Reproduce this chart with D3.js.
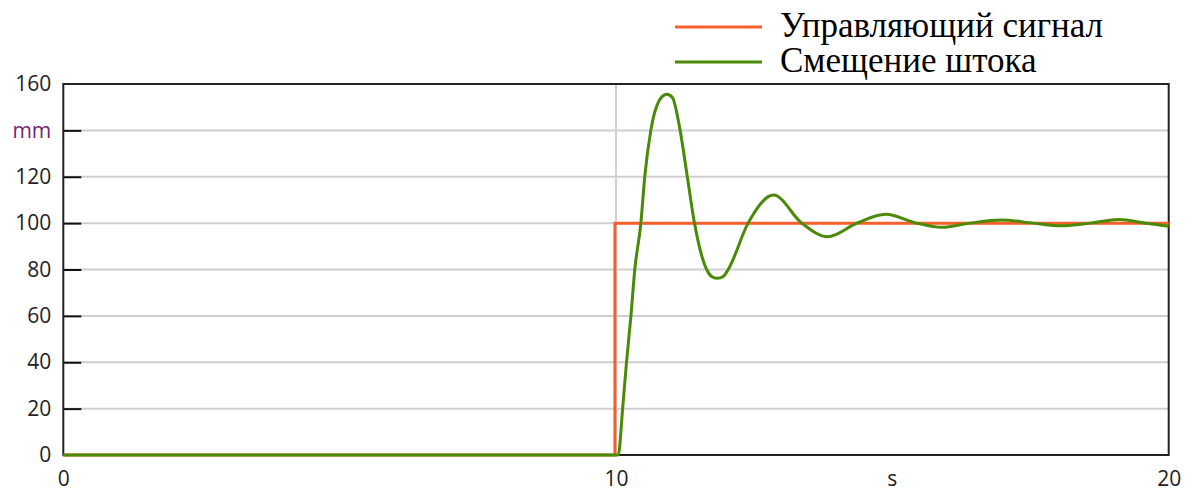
<!DOCTYPE html>
<html>
<head>
<meta charset="utf-8">
<script src="https://cdn.jsdelivr.net/npm/d3@7"></script>
<style>
  body { margin: 0; background: #fff; }
  svg { display: block; }
  .tick text { font-family: "Open Sans", sans-serif; font-size: 21px; fill: #222; }
  .legend text { font-family: "Liberation Serif", "Times New Roman", serif; font-size: 35px; fill: #000; }
</style>
</head>
<body>
<svg id="chart" width="1194" height="491"></svg>
<script>
// control signal (step)
var stepTimes  = [0, 9.98, 9.98, 20];
var stepValues = [0, 0, 100, 100];

// rod displacement
var rodTimes  = [0, 10.04, 10.12, 10.19, 10.27, 10.34, 10.45, 10.52, 10.63, 10.82, 10.92, 11.02, 11.16, 11.29, 11.42,
                 11.64, 11.73, 11.83, 11.94, 12.03, 12.39, 12.85, 13.36, 13.83, 14.36,
                 14.88, 15.44, 15.89, 16.40, 16.98, 17.55, 18.06, 18.58, 19.10, 19.60, 20];
var rodValues = [0, 0, 20, 40, 60, 80, 100, 120, 140, 154.2, 155.6, 154.2, 140, 120, 100,
                 80, 77.0, 76.2, 77.0, 80, 100, 112.1, 100, 94.1, 100,
                 103.8, 100, 98.2, 100, 101.3, 100, 98.9, 100, 101.6, 99.9, 98.7];

var seriesNames  = ["Управляющий сигнал", "Смещение штока"];
var seriesColors = ["#f7602a", "#4a8a08"];

var xTicks = [0, 10, 20],
    xGrid  = [10],
    xUnit  = "s",
    xUnitAt = 15;
var yTicks = [0, 20, 40, 60, 80, 100, 120, 140, 160],
    yUnit  = "mm",
    yUnitAt = 140;

var svg = d3.select("#chart"),
    x0 = 63.3, x1 = 1168.7, y0 = 455, y1 = 84;

var x = d3.scaleLinear().domain([0, 20]).range([x0, x1]),
    y = d3.scaleLinear().domain([0, 160]).range([y0, y1]);

// horizontal grid
svg.append("g").selectAll("line")
    .data(yTicks.filter(d => d > 0 && d < 160))
  .enter().append("line")
    .attr("x1", x0).attr("x2", x1)
    .attr("y1", y).attr("y2", y)
    .attr("stroke", "#cfcfcf")
    .attr("stroke-width", 2);

// vertical grid
svg.append("g").selectAll("line")
    .data(xGrid)
  .enter().append("line")
    .attr("x1", x).attr("x2", x)
    .attr("y1", y0).attr("y2", y1)
    .attr("stroke", "#cfcfcf")
    .attr("stroke-width", 2);

// y axis: short inner ticks, labels on the left
var yAxis = svg.append("g")
    .attr("transform", "translate(" + x0 + ",0)")
    .call(d3.axisLeft(y).tickValues(yTicks).tickSize(-18).tickPadding(12)
        .tickFormat(d => d === yUnitAt ? yUnit : d));
yAxis.select(".domain").remove();
yAxis.selectAll(".tick line").attr("stroke", "#111").attr("stroke-width", 2)
    .filter(d => d === 0 || d === 160).remove();
yAxis.selectAll(".tick text").filter(d => d === yUnitAt).style("fill", "#7a1f78");

// x axis labels only
var xAxis = svg.append("g")
    .attr("transform", "translate(0," + y0 + ")")
    .call(d3.axisBottom(x).tickValues(xTicks).tickSize(0).tickPadding(16));
xAxis.select(".domain").remove();
xAxis.selectAll(".tick text").attr("dy", "0.71em");

xAxis.append("g").attr("class", "tick")
    .append("text")
    .attr("x", x(xUnitAt)).attr("y", 16).attr("dy", "0.71em")
    .attr("text-anchor", "middle")
    .text(xUnit);

// frame
svg.append("rect")
    .attr("x", x0).attr("y", y1)
    .attr("width", x1 - x0).attr("height", y0 - y1)
    .attr("fill", "none")
    .attr("stroke", "#222")
    .attr("stroke-width", 2);

// series
var stepLine = d3.line()
    .x((d, i) => x(stepTimes[i]))
    .y(d => y(d));

var rodLine = d3.line()
    .x((d, i) => x(rodTimes[i]))
    .y(d => y(d))
    .curve(d3.curveMonotoneX);

svg.append("path")
    .attr("d", stepLine(stepValues))
    .attr("fill", "none")
    .attr("stroke", seriesColors[0])
    .attr("stroke-width", 3);

svg.append("path")
    .attr("d", rodLine(rodValues))
    .attr("fill", "none")
    .attr("stroke", seriesColors[1])
    .attr("stroke-width", 3)
    .attr("stroke-linejoin", "round");

// legend
var legend = svg.append("g").attr("class", "legend")
    .selectAll("g")
    .data(seriesNames)
  .enter().append("g")
    .attr("transform", (d, i) => "translate(675," + (27 + i * 35) + ")");

legend.append("line")
    .attr("x1", 0).attr("x2", 87)
    .attr("stroke", (d, i) => seriesColors[i])
    .attr("stroke-width", 3);

legend.append("text")
    .attr("x", 105)
    .attr("y", 10)
    .text(d => d);
</script>
</body>
</html>
